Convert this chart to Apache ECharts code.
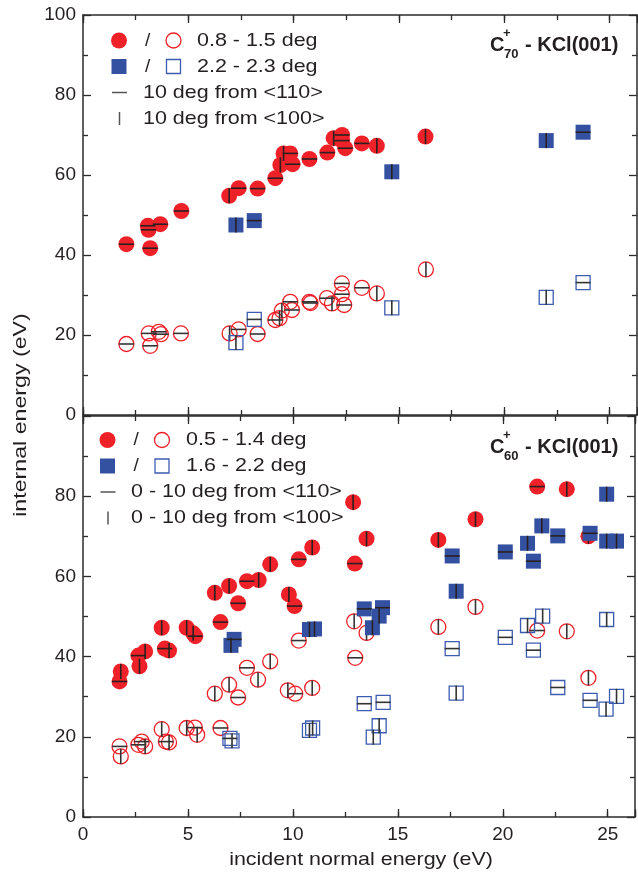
<!DOCTYPE html>
<html>
<head>
<meta charset="utf-8">
<script src="https://cdn.jsdelivr.net/npm/echarts@6/dist/echarts.min.js"></script>
<style>html,body{margin:0;padding:0;background:#fff;}#c{width:638px;height:882px;}</style>
</head>
<body>
<div id="c"></div>
<script>
// ---- data: [incident normal energy (eV), internal energy (eV), orientation 'h' = <110>, 'v' = <100>]
const xTicks = [0, 5, 10, 15, 20, 25];
const yTicks = [0, 20, 40, 60, 80, 100];

// Top panel: C70+ - KCl(001)
const topFilledCircles = [
  [2.06,42.7,'h'],[3.19,41.7,'h'],[3.08,47.3,'h'],[3.11,46.3,'h'],[3.67,47.7,'h'],[4.67,51.0,'h'],
  [6.94,54.8,'v'],[7.39,56.7,'h'],[8.29,56.6,'h'],[9.13,59.2,'h'],[9.37,62.5,'v'],[9.52,65.4,'v'],
  [9.84,65.4,'h'],[9.95,62.7,'h'],[10.75,64.0,'h'],[11.6,65.6,'h'],[11.9,69.2,'v'],[12.3,70.0,'h'],
  [12.3,68.6,'h'],[12.45,66.7,'h'],[13.24,67.9,'h'],[13.95,67.3,'v'],[16.26,69.6,'v']
];
const topFilledSquares = [[7.26,47.5,'v'],[8.13,48.6,'h'],[14.66,60.8,'v'],[21.99,68.6,'v'],[23.74,70.7,'h']];
const topOpenCircles = [
  [2.06,17.75,'h'],[3.12,20.4,'h'],[3.19,17.3,'h'],[3.6,20.8,'h'],[3.7,20.2,'h'],[4.65,20.4,'h'],
  [6.96,20.4,'v'],[7.39,21.4,'h'],[8.29,20.25,'h'],[9.13,23.75,'h'],[9.33,24.2,'v'],[9.44,26.1,'v'],
  [9.84,28.3,'h'],[9.92,26.25,'h'],[10.75,28.3,'h'],[10.8,28.0,'h'],[11.58,29.2,'h'],[11.82,27.9,'v'],
  [12.29,32.9,'h'],[12.29,30.2,'h'],[12.40,27.5,'h'],[13.24,31.8,'h'],[13.95,30.4,'v'],[16.28,36.4,'v']
];
const topOpenSquares = [[7.26,18.1,'v'],[8.13,23.9,'h'],[14.66,26.8,'v'],[21.99,29.4,'v'],[23.74,33.1,'h']];

// Bottom panel: C60+ - KCl(001)
const botFilledCircles = [
  [1.8,36.3,'v'],[1.74,33.8,'h'],[2.69,37.6,'v'],[2.64,40.25,'h'],[2.96,41.3,'v'],[3.75,47.2,'v'],
  [3.9,42.0,'h'],[4.1,41.5,'v'],[4.94,47.2,'v'],[5.25,45.8,'v'],[5.35,45.1,'h'],[6.55,48.6,'h'],
  [6.28,55.9,'v'],[6.96,57.6,'v'],[7.39,53.3,'h'],[7.81,58.8,'h'],[8.37,59.1,'v'],[8.92,63.0,'v'],
  [9.81,55.5,'v'],[10.08,52.6,'h'],[10.28,64.25,'h'],[10.92,67.2,'v'],[12.87,78.5,'v'],[12.95,63.2,'h'],
  [13.51,69.4,'v'],[16.93,69.1,'v'],[18.7,74.25,'v'],[21.64,82.4,'h'],[23.05,81.75,'v'],[24.08,70.0,'v']
];
const botFilledSquares = [
  [7.2,44.3,'h'],[7.05,42.8,'v'],[10.79,46.75,'v'],[11.03,46.9,'v'],[13.4,51.9,'h'],[14.27,52.2,'h'],
  [14.11,50.1,'v'],[13.79,47.2,'v'],[17.59,65.1,'h'],[17.78,56.3,'v'],[20.12,66.1,'h'],[21.18,68.25,'v'],
  [21.86,72.6,'v'],[21.46,63.8,'h'],[22.62,70.1,'h'],[24.16,70.75,'h'],[24.95,80.5,'v'],[24.95,68.8,'v'],
  [25.42,68.8,'v']
];
const botOpenCircles = [
  [1.74,17.6,'h'],[1.8,15.1,'v'],[2.64,18.0,'h'],[2.8,18.8,'h'],[2.96,17.6,'v'],[3.75,21.9,'v'],
  [3.95,18.8,'h'],[4.1,18.6,'v'],[4.94,22.2,'v'],[5.33,22.3,'h'],[5.44,20.5,'v'],[6.55,22.2,'h'],
  [6.28,30.75,'v'],[6.96,33.0,'v'],[7.39,29.8,'h'],[7.81,37.2,'h'],[8.34,34.25,'v'],[8.92,38.8,'v'],
  [9.76,31.6,'v'],[10.11,30.75,'h'],[10.92,32.2,'v'],[10.28,44.0,'h'],[12.92,48.8,'v'],[12.97,39.7,'h'],
  [13.51,45.9,'v'],[16.93,47.4,'v'],[18.7,52.4,'v'],[21.64,46.5,'h'],[23.05,46.3,'v'],[24.08,34.7,'v']
];
const botOpenSquares = [
  [7.0,19.6,'h'],[7.1,19.0,'v'],[10.79,21.6,'v'],[10.94,22.2,'v'],[13.4,28.25,'h'],[14.3,28.6,'h'],
  [14.11,22.75,'v'],[13.83,19.9,'v'],[17.59,42.0,'h'],[17.78,30.9,'v'],[20.12,44.8,'h'],[21.18,47.75,'v'],
  [21.9,50.1,'v'],[21.46,41.6,'h'],[22.62,32.3,'h'],[24.16,29.1,'h'],[24.95,49.25,'v'],[24.92,26.9,'v'],
  [25.42,30.1,'v']
];

const X_MIN = 0, X_MAX = 26.3, Y_MIN = 0, Y_MAX = 100;

// ---- styling
const FONT = 'Liberation Sans, Arial, Helvetica, sans-serif';
const RED = '#EE2128', BLUE = '#3451A1', BLUE_OPEN = '#3D5CB0', AX = '#2b2b2b';
const TXT = '#231f20';
const STRETCH = 1.13;

const grids = [
  {left: 83, right: 1, top: 15, height: 400},
  {left: 83, right: 1, top: 416, height: 401}
];

function xAx(grid, pos, minor, labels) {
  return {
    type: 'value', gridIndex: grid, position: pos, min: X_MIN, max: X_MAX,
    interval: minor ? 2.5 : 5,
    axisLine: {show: !minor, onZero: false, lineStyle: {color: AX, width: 1.5}},
    axisTick: {show: true, inside: true, length: minor ? 5 : 8, lineStyle: {color: AX, width: 1.3}},
    axisLabel: {show: labels, fontSize: 19, color: TXT, fontFamily: FONT, margin: 8,
      formatter: v => (xTicks.indexOf(v) >= 0 ? String(v) : '')},
    splitLine: {show: false}
  };
}
function yAx(grid, pos, labels, hideTop) {
  return {
    type: 'value', gridIndex: grid, position: pos, min: Y_MIN, max: Y_MAX, interval: 20,
    axisLine: {show: true, onZero: false, lineStyle: {color: AX, width: 1.5}},
    axisTick: {show: true, inside: true, length: 8, lineStyle: {color: AX, width: 1.3}},
    minorTick: {show: true, splitNumber: 2, length: 5, lineStyle: {color: AX, width: 1.3}},
    axisLabel: {show: labels, fontSize: 19, color: TXT, fontFamily: FONT, margin: 7,
      formatter: v => (hideTop && v === 100) ? '' : (yTicks.indexOf(v) >= 0 ? String(v) : '')},
    splitLine: {show: false}
  };
}

const xAxes = [
  xAx(0, 'bottom', false, false), xAx(0, 'bottom', true, false), xAx(0, 'top', false, false), xAx(0, 'top', true, false),
  xAx(1, 'bottom', false, true), xAx(1, 'bottom', true, false), xAx(1, 'top', false, false), xAx(1, 'top', true, false)
];
const yAxes = [
  yAx(0, 'left', true, false), yAx(0, 'right', false, false),
  yAx(1, 'left', true, true), yAx(1, 'right', false, false)
];

const lineSize = v => (v[2] === 'h' ? [15, 1.6] : [1.6, 15]);

function markerSeries(data, panel, kind) {
  const xi = panel === 0 ? 0 : 4, yi = panel === 0 ? 0 : 2;
  let s = {type: 'scatter', xAxisIndex: xi, yAxisIndex: yi, data: data, silent: true, animation: false};
  if (kind === 'fc') { s.symbol = 'circle'; s.symbolSize = 16; s.itemStyle = {color: RED, opacity: 1}; }
  if (kind === 'oc') { s.symbol = 'circle'; s.symbolSize = 15; s.itemStyle = {color: 'rgba(0,0,0,0)', borderColor: RED, borderWidth: 1.3, opacity: 1}; }
  if (kind === 'fs') { s.symbol = 'rect'; s.symbolSize = 15; s.itemStyle = {color: BLUE, opacity: 1}; }
  if (kind === 'os') { s.symbol = 'rect'; s.symbolSize = 14; s.itemStyle = {color: 'rgba(0,0,0,0)', borderColor: BLUE_OPEN, borderWidth: 1.3, opacity: 1}; }
  return s;
}
function lineSeries(data, panel, open) {
  const xi = panel === 0 ? 0 : 4, yi = panel === 0 ? 0 : 2;
  return {type: 'scatter', xAxisIndex: xi, yAxisIndex: yi, data: data, silent: true, animation: false,
    symbol: 'rect', symbolSize: lineSize, itemStyle: {color: open ? '#333' : '#2a2020', opacity: 1}};
}

const series = [];
[[topOpenCircles,'oc'],[topOpenSquares,'os'],[topFilledCircles,'fc'],[topFilledSquares,'fs']].forEach(([d,k]) => {
  series.push(markerSeries(d, 0, k)); series.push(lineSeries(d, 0, k[0] === 'o'));
});
[[botOpenCircles,'oc'],[botOpenSquares,'os'],[botFilledCircles,'fc'],[botFilledSquares,'fs']].forEach(([d,k]) => {
  series.push(markerSeries(d, 1, k)); series.push(lineSeries(d, 1, k[0] === 'o'));
});

function txt(x, y, text, size, opts) {
  opts = opts || {};
  return {type: 'text', x: x, y: y, rotation: opts.rotation || 0, silent: true,
    scaleX: opts.scaleX || 1, scaleY: 1,
    style: {text: text, fill: TXT, font: (opts.bold ? 'bold ' : '') + size + 'px ' + FONT,
      align: opts.align || 'left', verticalAlign: 'middle',
      textAlign: opts.align || 'left', textVerticalAlign: 'middle'}};
}
function legendBlock(x0, y0, xs, labels) {
  const els = [];
  els.push({type: 'circle', silent: true, shape: {cx: x0, cy: y0, r: 8}, style: {fill: RED}});
  els.push(txt(x0 + 26, y0, '/', 19));
  els.push({type: 'circle', silent: true, shape: {cx: x0 + 54.5, cy: y0, r: 7.5}, style: {fill: 'none', stroke: RED, lineWidth: 1.3}});
  els.push(txt(xs, y0, labels[0], 19, {scaleX: STRETCH}));
  const y1 = y0 + 26;
  els.push({type: 'rect', silent: true, shape: {x: x0 - 7.5, y: y1 - 7.5, width: 15, height: 15}, style: {fill: BLUE}});
  els.push(txt(x0 + 26, y1, '/', 19));
  els.push({type: 'rect', silent: true, shape: {x: x0 + 54.5 - 7, y: y1 - 7, width: 14, height: 14}, style: {fill: 'none', stroke: BLUE_OPEN, lineWidth: 1.3}});
  els.push(txt(xs, y1, labels[1], 19, {scaleX: STRETCH}));
  const y2 = y0 + 52;
  els.push({type: 'rect', silent: true, shape: {x: x0 - 7, y: y2 - 0.75, width: 15, height: 1.5}, style: {fill: '#555'}});
  els.push(txt(labels[4], y2, labels[2], 19, {scaleX: STRETCH}));
  const y3 = y0 + 78;
  els.push({type: 'rect', silent: true, shape: {x: x0 + 0.5 - 0.75, y: y3 - 6.5, width: 1.5, height: 13}, style: {fill: '#555'}});
  els.push(txt(labels[4], y3, labels[3], 19, {scaleX: STRETCH}));
  return els;
}

const graphics = [].concat(
  legendBlock(119, 40.5, 197, ['0.8 - 1.5 deg', '2.2 - 2.3 deg', '10 deg from <110>', '10 deg from <100>', 143]),
  legendBlock(107.5, 440, 186, ['0.5 - 1.4 deg', '1.6 - 2.2 deg', '0 - 10 deg from <110>', '0 - 10 deg from <100>', 131]),
  [
    txt(490, 45, 'C', 20, {bold: true}),
    txt(503, 33, '+', 13, {bold: true}),
    txt(504, 54, '70', 13, {bold: true}),
    txt(525, 45, '- KCl(001)', 20, {bold: true}),
    txt(490, 447, 'C', 20, {bold: true}),
    txt(503, 435, '+', 13, {bold: true}),
    txt(504, 456, '60', 13, {bold: true}),
    txt(525, 447, '- KCl(001)', 20, {bold: true}),
    txt(21, 415, 'internal energy (eV)', 19, {align: 'center', rotation: Math.PI / 2, scaleX: 1.22}),
    txt(361, 860, 'incident normal energy (eV)', 19, {align: 'center', scaleX: STRETCH})
  ]
);

const chart = echarts.init(document.getElementById('c'), null, {renderer: 'canvas'});
chart.setOption({
  backgroundColor: '#fff',
  animation: false,
  grid: grids,
  xAxis: xAxes,
  yAxis: yAxes,
  series: series,
  graphic: {elements: graphics}
});
</script>
</body>
</html>
